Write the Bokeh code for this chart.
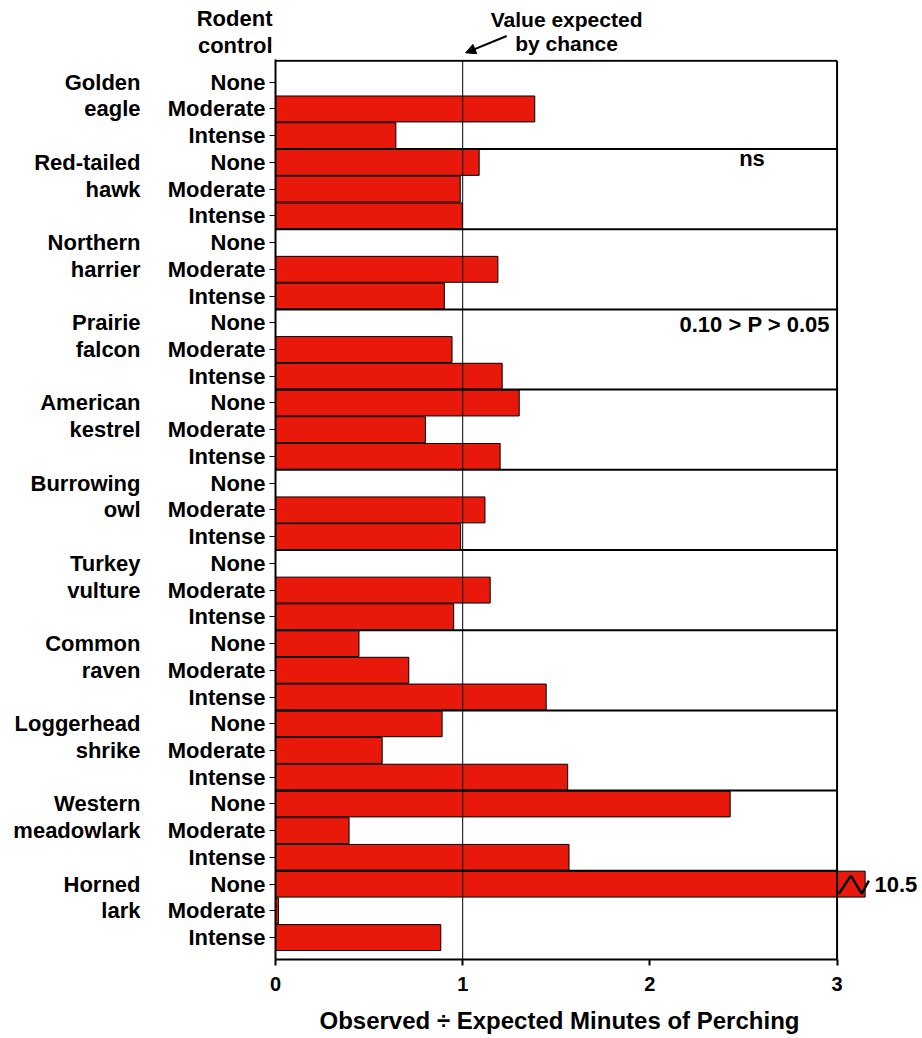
from bokeh.plotting import figure
from bokeh.layouts import column
from bokeh.models import (Range1d, LinearAxis, FixedTicker, Label, Arrow,
                          NormalHead, ColumnDataSource)
from bokeh.core.properties import value
from bokeh.embed import file_html
from bokeh.resources import INLINE

# ---------------- data ----------------
species_line1 = ["Golden", "Red-tailed", "Northern", "Prairie", "American",
                 "Burrowing", "Turkey", "Common", "Loggerhead", "Western", "Horned"]
species_line2 = ["eagle", "hawk", "harrier", "falcon", "kestrel",
                 "owl", "vulture", "raven", "shrike", "meadowlark", "lark"]
control_levels = ["None", "Moderate", "Intense"]
none_vals = [None, 1.088, None, None, 1.302, None, None, 0.446, 0.890, 2.429, 10.5]
moderate_vals = [1.385, 0.987, 1.188, 0.943, 0.801, 1.119, 1.147, 0.712, 0.570, 0.393, 0.016]
intense_vals = [0.643, 0.998, 0.902, 1.211, 1.200, 0.989, 0.952, 1.446, 1.561, 1.568, 0.883]
x_ticks = [0, 1, 2, 3]
x_title = "Observed \u00f7 Expected Minutes of Perching"
expected_value = 1
axis_max = 3
bar_clip = 3.15

FONT = "Liberation Sans"
RED = "#E8190A"

# ---------------- geometry ----------------
W = 920
LEFT = 275
X_END = 3.2
FRAME_W = 601
RIGHT = W - LEFT - FRAME_W
HEADER_H = 59
FRAME_H = 900
AXIS_H = 42
MAIN_H = FRAME_H + AXIS_H
FOOTER_H = 33
px_unit = FRAME_W / X_END
page_x_range = (-LEFT / px_unit, (W - LEFT) / px_unit)

# ---------------- build rows ----------------
n_species = len(species_line1)
n_rows = n_species * 3
rows, rights, vals_raw = [], [], []
for i in range(n_species):
    for j, series in enumerate([none_vals, moderate_vals, intense_vals]):
        v = series[i]
        if v is None:
            continue
        rows.append(3 * i + j)
        rights.append(min(v, bar_clip))
        vals_raw.append(v)
src = ColumnDataSource(dict(y=rows, right=rights, left=[0] * len(rows), v=vals_raw))

y_top = -0.8
y_frame_top = -0.85
y_bottom = n_rows - 1 + 0.82
row_px = FRAME_H / (y_bottom - y_frame_top)

def bare(fig):
    fig.xgrid.visible = False
    fig.ygrid.visible = False
    fig.outline_line_color = None
    fig.frame_align = False

# ================= main figure =================
p = figure(width=W, height=MAIN_H,
           x_range=Range1d(0, X_END), y_range=Range1d(y_bottom, y_frame_top),
           output_backend="svg", toolbar_location=None,
           min_border_left=LEFT, min_border_right=RIGHT,
           min_border_top=0, min_border_bottom=AXIS_H)
bare(p)

p.hbar(y="y", left="left", right="right", height=0.97, source=src,
       fill_color=RED, line_color="black", line_width=1)

# frame borders and group separators
p.segment(x0=[0], y0=[y_top], x1=[axis_max], y1=[y_top], line_color="black", line_width=2)
p.segment(x0=[axis_max], y0=[y_top], x1=[axis_max], y1=[y_bottom], line_color="black", line_width=2)
seps = [3 * k + 2.5 for k in range(n_species - 1)]
p.segment(x0=[0] * len(seps), y0=seps, x1=[axis_max] * len(seps), y1=seps,
          line_color="black", line_width=2)
p.segment(x0=[expected_value], y0=[y_top], x1=[expected_value], y1=[y_bottom],
          line_color="black", line_width=1)

# break symbol on clipped bar(s)
clipped = [(r, v) for r, v in zip(rows, vals_raw) if v > bar_clip]
for r, v in clipped:
    p.line(x=[bar_clip + d for d in (-0.14, -0.076, -0.018, 0.02)],
           y=[r + d for d in (0.36, -0.32, 0.36, -0.13)],
           line_color="black", line_width=2.5)

# x axis
xa = p.xaxis[0]
xa.ticker = FixedTicker(ticks=x_ticks)
xa.bounds = (0, axis_max)
xa.axis_line_width = 2
xa.major_tick_line_width = 2
xa.major_tick_out = 6
xa.major_tick_in = 0
xa.minor_tick_line_color = None
xa.major_label_text_font = FONT
xa.major_label_text_font_size = "20px"
xa.major_label_text_font_style = "bold"
xa.major_label_text_color = "black"
xa.major_label_standoff = 11

# y axis: rodent control levels
ya = p.yaxis[0]
ya.ticker = FixedTicker(ticks=list(range(n_rows)))
ya.major_label_overrides = {r: control_levels[r % 3] for r in range(n_rows)}
ya.axis_line_width = 2
ya.major_tick_out = 6
ya.major_tick_in = 0
ya.minor_tick_line_color = None
ya.major_label_standoff = 4
ya.major_label_text_font = FONT
ya.major_label_text_font_size = "22px"
ya.major_label_text_font_style = "bold"
ya.major_label_text_color = "black"

# second left axis: species names
sp_ticks, sp_over = [], {}
for i in range(n_species):
    sp_ticks += [3 * i, 3 * i + 1]
    sp_over[3 * i] = species_line1[i]
    sp_over[3 * i + 1] = species_line2[i]
ya2 = LinearAxis(ticker=FixedTicker(ticks=sp_ticks), major_label_overrides=sp_over,
                 axis_line_color=None, major_tick_line_color=None,
                 minor_tick_line_color=None, major_tick_out=0, major_tick_in=0,
                 major_label_standoff=24, major_label_text_font=FONT,
                 major_label_text_font_size="22px", major_label_text_font_style="bold",
                 major_label_text_color="black")
p.add_layout(ya2, "left")

# right axis: true value of the clipped bar
ra = LinearAxis(ticker=FixedTicker(ticks=[r for r, v in clipped]),
                major_label_overrides={r: f"{v:g}" for r, v in clipped},
                axis_line_color=None, major_tick_line_color=None,
                minor_tick_line_color=None, major_tick_out=0, major_tick_in=0,
                major_label_standoff=0, major_label_text_font=FONT,
                major_label_text_font_size="22px", major_label_text_font_style="bold",
                major_label_text_color="black")
p.add_layout(ra, "right")

# in-plot significance notes
def note(x, y, text, align):
    p.add_layout(Label(x=x, y=y, text=text, text_font=FONT, text_font_size="22px",
                       text_font_style="bold", text_color="black",
                       text_align=align, text_baseline="middle"))

note(2.477, 2.85, "ns", "left")
note(2.962, 9.08, "0.10 > P > 0.05", "right")

# ================= header figure =================
hy_bottom = y_frame_top
hy_top = y_frame_top - HEADER_H / row_px
h = figure(width=W, height=HEADER_H,
           x_range=Range1d(*page_x_range), y_range=Range1d(hy_bottom, hy_top),
           output_backend="svg", toolbar_location=None,
           x_axis_type=None, y_axis_type=None, min_border=0)
bare(h)

h.text(x=[0, 0], y=[-2.40, -1.38], text=["Rodent", "control"], x_offset=-3,
       text_font=value(FONT), text_font_size="22px", text_font_style="bold",
       text_color="black", text_align="right", text_baseline="middle")
h.text(x=[1.55, 1.55], y=[-2.33, -1.45], text=["Value expected", "by chance"],
       text_font=value(FONT), text_font_size="21px", text_font_style="bold",
       text_color="black", text_align="center", text_baseline="middle")
h.add_layout(Arrow(x_start=1.231, y_start=-1.73, x_end=1.012, y_end=-1.10,
                   line_color="black", line_width=2,
                   end=NormalHead(size=10, fill_color="black", line_color="black")))

# ================= footer figure (x-axis title) =================
f = figure(width=W, height=FOOTER_H,
           x_range=Range1d(*page_x_range), y_range=Range1d(FOOTER_H, 0),
           output_backend="svg", toolbar_location=None,
           x_axis_type=None, y_axis_type=None, min_border=0)
bare(f)
f.text(x=[1.512], y=[19], text=[x_title],
       text_font=value(FONT), text_font_size="24px", text_font_style="bold",
       text_color="black", text_align="center", text_baseline="middle")

layout = column(h, p, f, spacing=0)
open("out.html", "w").write(file_html(layout, INLINE))
